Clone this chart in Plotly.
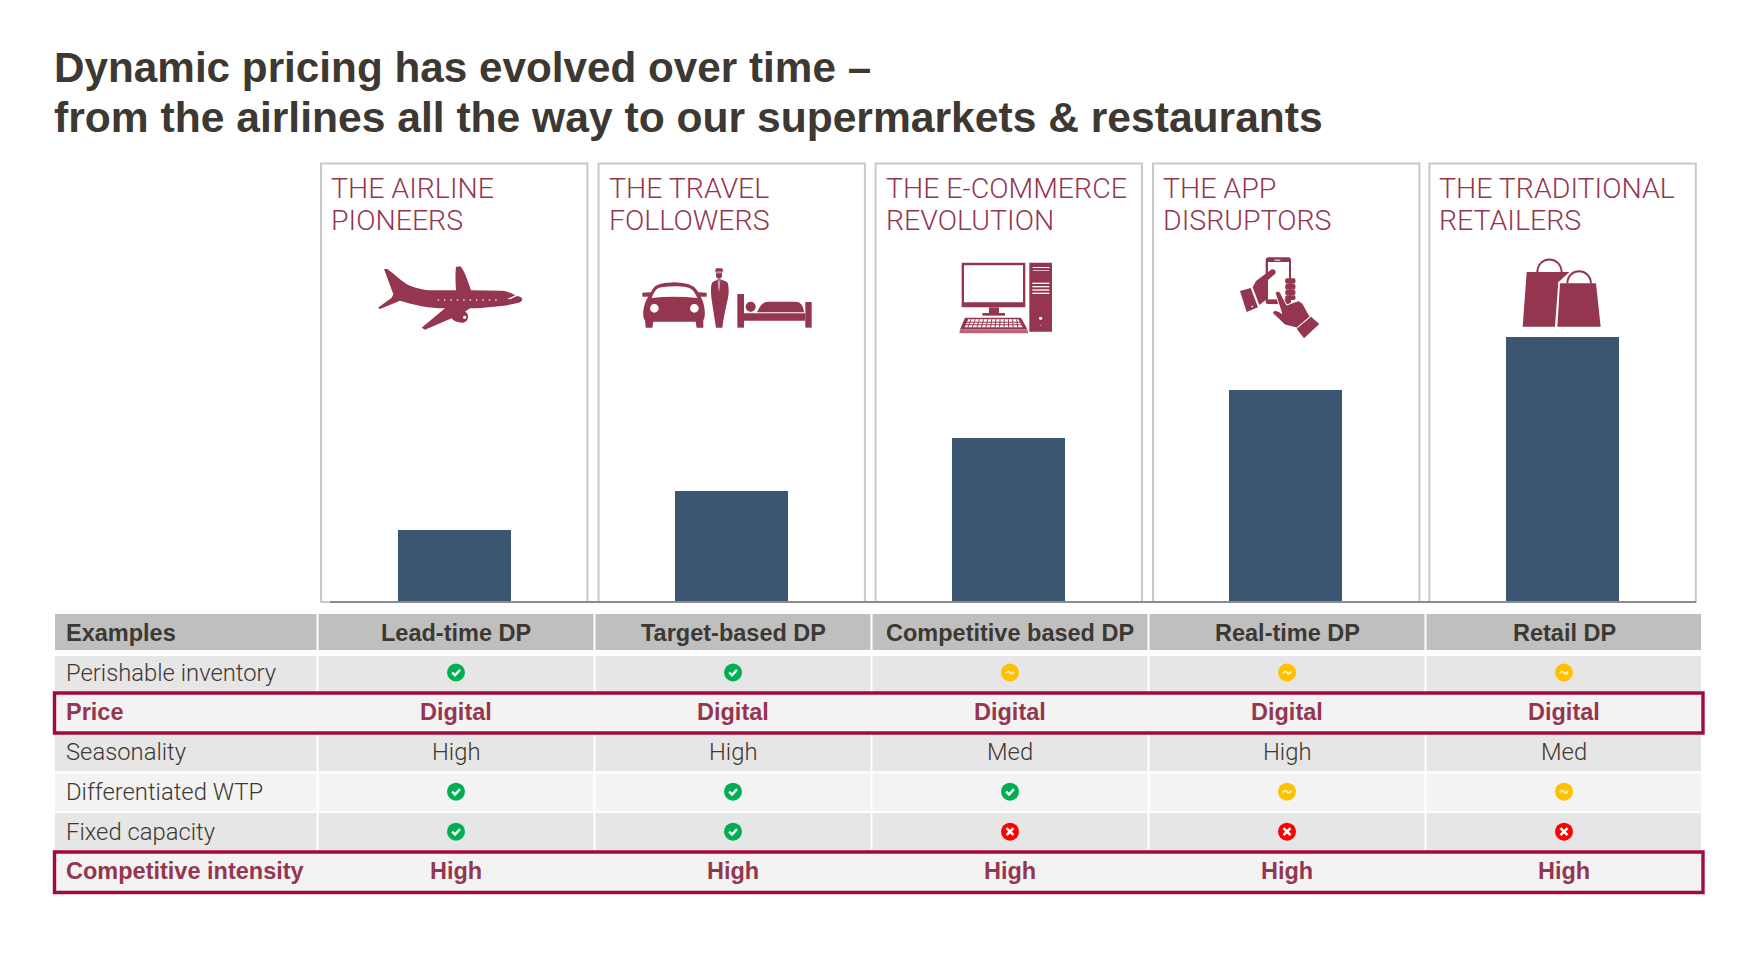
import re
import plotly.graph_objects as go

# data
segments = ["Lead-time DP", "Target-based DP", "Competitive based DP", "Real-time DP", "Retail DP"]
bar_heights = [72, 111, 164, 212, 265]
panel_line1 = ["THE AIRLINE", "THE TRAVEL", "THE E-COMMERCE", "THE APP", "THE TRADITIONAL"]
panel_line2 = ["PIONEERS", "FOLLOWERS", "REVOLUTION", "DISRUPTORS", "RETAILERS"]
perishable = ["ok", "ok", "mid", "mid", "mid"]
price = ["Digital", "Digital", "Digital", "Digital", "Digital"]
seasonality = ["High", "High", "Med", "High", "Med"]
diff_wtp = ["ok", "ok", "ok", "mid", "mid"]
fixed_capacity = ["ok", "ok", "no", "no", "no"]
intensity = ["High", "High", "High", "High", "High"]
row_labels = ["Examples", "Perishable inventory", "Price", "Seasonality",
              "Differentiated WTP", "Fixed capacity", "Competitive intensity"]
title_lines = ["Dynamic pricing has evolved over time –",
               "from the airlines all the way to our supermarkets & restaurants"]

# layout, in page pixels
W, H = 1755, 968
MAROON = "#953650"
BORDER = "#a20a3d"
DARK = "#3d3832"
BAR = "#3b5672"
STATUS = {"ok": "#00b050", "mid": "#ffc000", "no": "#ff0000"}
SANS = "Liberation Sans"
THIN = "Roboto"
panel_left = [321, 598.5, 875.6, 1153, 1429.4]
panel_w = 266.4
col_edges = [55, 317.5, 594.5, 871.5, 1148.5, 1425.5, 1702]
col_centers = [456, 733, 1010, 1287, 1564]
row_tops = [614, 656, 693, 734, 773.3, 813, 852]
row_bots = [650, 692, 733, 771.3, 811, 851, 892]
row_mid = [632.7, 672.5, 711.7, 752, 791.7, 831.7, 871]
row_fill = ["#bfbfbf", "#e6e6e6", "#f3f3f3", "#e6e6e6", "#f3f3f3", "#e6e6e6", "#f3f3f3"]

fig = go.Figure()
fig.add_trace(go.Bar(x=segments, y=bar_heights, width=0.408, marker_color=BAR, marker_line_width=0,
                     hoverinfo="x", showlegend=False))

shapes = []
annots = []


def add_text(x, y, text, size=23.5, color=DARK, bold=False, anchor="center", family=SANS, weight=None):
    annots.append(dict(x=x, y=y, xref="x2", yref="y2", text=text, showarrow=False, xanchor=anchor,
                       yanchor="middle", borderpad=0,
                       font=dict(family=family, size=size, color=color,
                                 weight=weight if weight else (700 if bold else 400))))


def add_rect(x0, y0, x1, y1, fill="rgba(0,0,0,0)", line=None, width=0, layer="below"):
    shapes.append(dict(type="rect", xref="x2", yref="y2", x0=x0, y0=y0, x1=x1, y1=y1, fillcolor=fill,
                       line=dict(color=line or "rgba(0,0,0,0)", width=width), layer=layer))


def add_path(ox, oy, d, fill=MAROON, line=None, width=0):
    # icon paths are traced at 3x from the zoomed crops, then moved into place
    def move(m):
        return "%.2f %.2f" % (ox + float(m.group(1)) / 3, oy + float(m.group(2)) / 3)
    shapes.append(dict(type="path", xref="x2", yref="y2",
                       path=re.sub(r"(-?\d+\.?\d*) (-?\d+\.?\d*)", move, d),
                       fillcolor=fill, line=dict(color=line or "rgba(0,0,0,0)", width=width), layer="above"))


def circle(cx, cy, r):
    k = r * 0.5523
    return (f"M {cx-r} {cy} C {cx-r} {cy-k} {cx-k} {cy-r} {cx} {cy-r} C {cx+k} {cy-r} {cx+r} {cy-k} {cx+r} {cy} "
            f"C {cx+r} {cy+k} {cx+k} {cy+r} {cx} {cy+r} C {cx-k} {cy+r} {cx-r} {cy+k} {cx-r} {cy} Z")


def box(x0, y0, x1, y1):
    return f"M {x0} {y0} L {x1} {y0} L {x1} {y1} L {x0} {y1} Z"


# panels above the table
for i, left in enumerate(panel_left):
    add_rect(left, 163.5, left + panel_w, 602, line="#c9c9c9", width=2)
    add_text(left + 9, 188, panel_line1[i], size=28.5, color=MAROON, anchor="left", family=THIN, weight=300)
    add_text(left + 9, 220, panel_line2[i], size=28.5, color=MAROON, anchor="left", family=THIN, weight=300)
shapes.append(dict(type="line", xref="x2", yref="y2", x0=330, x1=1696, y0=602, y1=602,
                   line=dict(color="#8c8c8c", width=2), layer="above"))

# plane
OX, OY = 370, 255
add_path(OX, OY, "M 42 42 L 52 42 C 75 58 100 85 120 92 C 140 100 160 104 175 106 L 258 106 "
                 "C 256 80 256 50 258 36 L 270 34 C 282 42 292 75 303 106 L 395 107 C 420 110 430 118 440 122 "
                 "C 458 126 462 134 450 142 C 430 150 360 158 300 160 L 285 170 C 298 175 298 200 280 203 "
                 "C 265 204 250 198 245 190 L 165 224 L 155 218 L 225 160 "
                 "C 180 160 130 150 90 137 L 30 162 L 24 158 L 65 128 L 70 118 Z")
for j in range(10):
    add_path(OX, OY, circle(205 + 19.2 * j, 135, 2.6), fill="white")
add_path(OX, OY, circle(284, 187, 5), fill="white")
add_path(OX, OY, "M 412 132 L 442 118 L 446 121 L 420 133 Z", fill="white")

# car, doorman, bed
OX, OY = 635, 255
add_path(OX, OY, "M 48 112 C 60 88 70 85 118 82 C 170 85 180 95 190 112 L 215 113 L 215 125 L 197 125 "
                 "C 212 150 212 190 205 195 L 205 218 L 185 218 L 182 200 L 55 200 L 52 218 L 32 218 L 30 195 "
                 "C 22 190 22 150 40 125 L 22 125 L 22 113 Z")
add_path(OX, OY, "M 50 129 C 60 102 70 98 80 97 C 105 93 135 93 155 97 C 172 100 178 110 187 129 "
                 "C 140 124 95 124 50 129 Z", fill="white")
add_path(OX, OY, circle(58, 160, 13), fill="white")
add_path(OX, OY, circle(178, 160, 13), fill="white")
add_path(OX, OY, "M 243 40 L 262 40 L 265 50 L 240 50 Z")
add_path(OX, OY, box(242, 50, 262, 55), fill="#c08a98")
add_path(OX, OY, "M 243 55 L 261 55 L 261 62 C 261 68 256 71 252 71 C 248 71 243 68 243 62 Z")
add_path(OX, OY, "M 250 73 L 234 80 C 228 84 228 100 228 110 C 228 130 236 170 243 218 L 262 218 "
                 "C 268 170 281 130 281 110 C 281 100 281 84 275 80 L 256 73 Z")
add_path(OX, OY, "M 248 76 L 252 110 L 256 76 L 254 76 L 252 98 L 250 76 Z", fill="white")
add_path(OX, OY, box(307, 117, 327, 218))
add_path(OX, OY, box(511, 141, 530, 218))
add_path(OX, OY, box(327, 175, 511, 197))
add_path(OX, OY, circle(347, 155, 15))
add_path(OX, OY, "M 366 172 C 375 150 385 140 400 140 L 480 140 C 500 140 505 155 507 172 Z")

# computer
OX, OY = 950, 250
add_path(OX, OY, box(35, 38, 226, 172))
add_path(OX, OY, box(42, 46, 219, 157), fill="white")
add_path(OX, OY, box(117, 172, 147, 190))
add_path(OX, OY, box(97, 189, 165, 197))
add_path(OX, OY, "M 45 203 L 213 203 L 232 238 L 30 238 Z")
add_path(OX, OY, "M 30 238 L 232 238 L 235 250 L 28 250 Z", fill="#b5677c")
add_path(OX, OY, "M 55 208 L 205 208 L 218 232 L 44 232 Z", fill="white")
for j in range(12):
    add_path(OX, OY, f"M {62 + 12.4 * j} 208 L {65 + 12.4 * j} 208 L {55 + 13.6 * j} 232 L {52 + 13.6 * j} 232 Z")
for yy in (215, 223):
    add_path(OX, OY, box(44, yy, 218, yy + 3))
add_path(OX, OY, box(238, 38, 306, 245))
add_path(OX, OY, box(248, 51, 298, 54), fill="white")
add_path(OX, OY, box(248, 60, 298, 62), fill="white")
for yy in (98, 108, 118, 128):
    add_path(OX, OY, box(247, yy, 298, yy + 4), fill="white")
add_path(OX, OY, circle(272, 205, 5), fill="white")
add_path(OX, OY, circle(272, 226, 1.5), fill="white")

# hands and phone
OX, OY = 1230, 250
add_path(OX, OY, "M 115 22 L 175 22 C 181 22 183 26 183 32 L 183 155 C 183 160 180 162 175 162 L 115 162 "
                 "C 110 162 107 160 107 155 L 107 32 C 107 26 109 22 115 22 Z")
add_path(OX, OY, box(114, 36, 177, 148), fill="white")
add_path(OX, OY, box(133, 29, 151, 32), fill="white")
add_path(OX, OY, "M 68 112 L 78 93 L 125 58 C 135 56 140 64 135 72 L 108 95 L 110 148 L 88 165 Z")
add_path(OX, OY, "M 30 123 L 62 114 L 84 172 L 50 186 Z")
add_path(OX, OY, circle(67, 170, 2.5), fill="white")
for yy, hh in ((85, 16), (102, 17), (120, 15), (136, 14)):
    add_path(OX, OY, f"M 170 {yy} L 192 {yy} C 198 {yy} 198 {yy+hh} 192 {yy+hh} L 170 {yy+hh} "
                     f"C 164 {yy+hh} 164 {yy} 170 {yy} Z")
add_path(OX, OY, "M 136 130 C 138 122 148 122 152 130 L 170 165 L 205 152 L 218 160 L 240 200 L 200 234 "
                 "L 165 225 L 128 190 C 128 180 138 178 155 190 Z", line="white", width=1)
add_path(OX, OY, "M 243 200 L 268 222 L 222 265 L 200 236 Z")

# shopping bags
OX, OY = 1510, 250
add_path(OX, OY, "M 50 66 L 178 66 L 150 92 L 145 95 L 135 230 L 38 230 Z")
add_path(OX, OY, "M 82 66 C 84 16 152 16 155 66", fill="rgba(0,0,0,0)", line=MAROON, width=2)
add_path(OX, OY, "M 150 100 L 258 100 L 272 230 L 142 230 Z")
add_path(OX, OY, "M 172 100 C 174 52 240 52 243 100", fill="rgba(0,0,0,0)", line=MAROON, width=2)

# table rows
cells = [segments, perishable, price, seasonality, diff_wtp, fixed_capacity, intensity]
for r, row in enumerate(cells):
    boxed = r in (2, 6)
    if boxed:
        add_rect(col_edges[0], row_tops[r], col_edges[-1], row_bots[r], fill=row_fill[r])
    else:
        for c in range(6):
            add_rect(col_edges[c] + (1 if c else 0), row_tops[r], col_edges[c + 1] - 1, row_bots[r], fill=row_fill[r])
    head = r == 0
    strong = head or boxed
    add_text(65, row_mid[r], row_labels[r], size=23.5 if strong else 23.8, bold=strong, anchor="left",
             color=MAROON if boxed else DARK, family=SANS if strong else THIN, weight=None if strong else 300)
    for c, val in enumerate(row):
        if val not in STATUS:
            add_text(col_centers[c], row_mid[r], val, size=23.5 if strong else 23.8, bold=strong,
                     color=MAROON if boxed else DARK, family=SANS if strong else THIN, weight=None if strong else 300)
add_rect(54.5, 693, 1703, 733, line=BORDER, width=3.4, layer="above")
add_rect(54.5, 852, 1703, 892.5, line=BORDER, width=3.4, layer="above")

# status dots
for status, color in STATUS.items():
    xs, ys = [], []
    for r, row in enumerate(cells):
        for c, val in enumerate(row):
            if val == status:
                xs.append(col_centers[c])
                ys.append(row_mid[r])
    fig.add_trace(go.Scatter(x=xs, y=ys, xaxis="x2", yaxis="y2", mode="markers", hoverinfo="skip", showlegend=False,
                             marker=dict(symbol="circle", size=18, color=color, line_width=0)))
    for x, y in zip(xs, ys):
        if status == "ok":
            shapes.append(dict(type="path", xref="x2", yref="y2", layer="above",
                               path=f"M {x-3.8} {y} L {x-1} {y+2.8} L {x+4} {y-2.6}", line=dict(color="white", width=2.4)))
        elif status == "mid":
            shapes.append(dict(type="path", xref="x2", yref="y2", layer="above",
                               path=f"M {x-4} {y+1} C {x-2.5} {y-2} {x-1} {y-1.5} {x} {y} C {x+1} {y+1.5} {x+2.5} {y+2} {x+4} {y-1}",
                               line=dict(color="#fff4c8", width=1.8)))
        else:
            for sx in (-1, 1):
                shapes.append(dict(type="line", xref="x2", yref="y2", layer="above", x0=x - 3.5, x1=x + 3.5,
                                   y0=y - 3.5 * sx, y1=y + 3.5 * sx, line=dict(color="white", width=2.6)))

# heading
add_text(53, 67, title_lines[0], size=42.25, bold=True, anchor="left")
add_text(53, 117, title_lines[1], size=42.6, bold=True, anchor="left")

fig.update_layout(
    width=W, height=H, margin=dict(l=0, r=0, t=0, b=0), paper_bgcolor="white", plot_bgcolor="rgba(0,0,0,0)",
    bargap=0, showlegend=False, shapes=shapes, annotations=annots,
    xaxis=dict(domain=[315.6 / W, 1700.6 / W], type="category", categoryorder="array", categoryarray=segments,
               range=[-0.5, 4.5], visible=False),
    yaxis=dict(domain=[(H - 602) / H, (H - 163) / H], range=[0, 439], visible=False),
    xaxis2=dict(domain=[0, 1], range=[0, W], visible=False, anchor="y2"),
    yaxis2=dict(domain=[0, 1], range=[H, 0], visible=False, anchor="x2"),
)

fig.write_html("out.html", config={"displayModeBar": False},
               post_script="document.body.style.margin = '0';")
